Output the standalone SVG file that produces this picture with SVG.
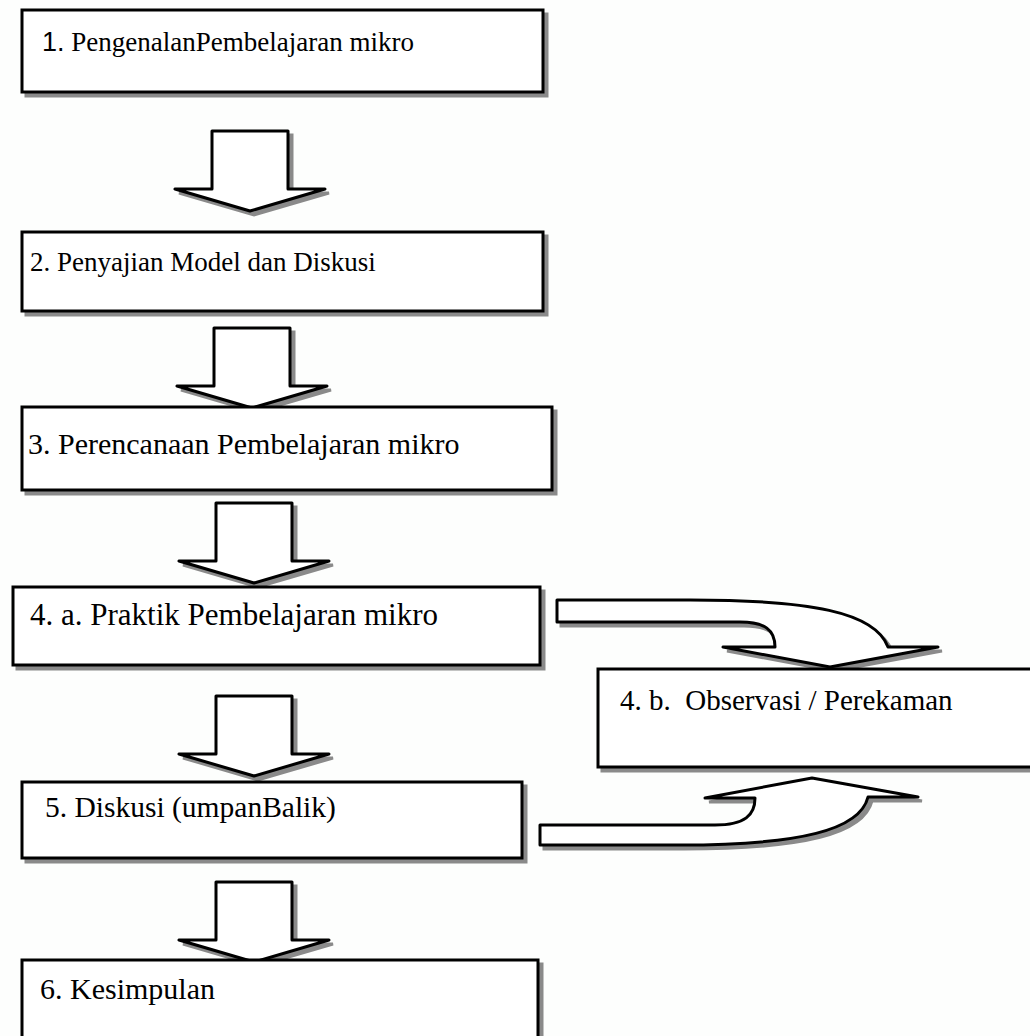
<svg xmlns="http://www.w3.org/2000/svg" width="1030" height="1036" viewBox="0 0 1030 1036">
<style>
.box{fill:#fff;stroke:#000;stroke-width:3}
.sh{fill:#8a8a8a;stroke:#8a8a8a;stroke-width:3}
.arr{fill:#fff;stroke:#000;stroke-width:3;stroke-linejoin:round}
.t{font-family:"Liberation Serif","Times New Roman",serif;font-size:27px;fill:#000}
.s{font-family:"Liberation Sans",Arial,sans-serif}
</style>
<defs>
<path id="down" d="M-38,0 L38,0 L38,58 L75,58 L0,80 L-75,58 L-38,58 Z"/>
</defs>
<rect width="1030" height="1036" fill="#fdfefd"/>
<g id="connectors">
<g id="a1" transform="translate(250,131)"><use href="#down" class="sh" transform="translate(4,4)"/><use href="#down" class="arr"/></g>
<g id="a2" transform="translate(252,328)"><use href="#down" class="sh" transform="translate(4,4)"/><use href="#down" class="arr"/></g>
<g id="a3" transform="translate(254,503)"><use href="#down" class="sh" transform="translate(4,4)"/><use href="#down" class="arr"/></g>
<g id="a4" transform="translate(254,696)"><use href="#down" class="sh" transform="translate(4,4)"/><use href="#down" class="arr"/></g>
<g id="a5" transform="translate(254,882)"><use href="#down" class="sh" transform="translate(4,4)"/><use href="#down" class="arr"/></g>
<path id="c1s" class="sh" transform="translate(4,4)" d="M557,600 L690,600 C810,600 875,612 888,647 L938,647 L830,667 L723,647 L775,647 C775,630 765,622 740,622 L557,622 Z"/>
<path id="c1" class="arr" d="M557,600 L690,600 C810,600 875,612 888,647 L938,647 L830,667 L723,647 L775,647 C775,630 765,622 740,622 L557,622 Z"/>
<path id="c2s" class="sh" transform="translate(4,4)" d="M540,825 L715,825 C745,825 755,815 755,798 L705,798 L812,778 L918,797 L868,797 C860,830 800,845 680,845 L540,845 Z"/>
<path id="c2" class="arr" d="M540,825 L715,825 C745,825 755,815 755,798 L705,798 L812,778 L918,797 L868,797 C860,830 800,845 680,845 L540,845 Z"/>
</g>
<g id="n1"><rect class="sh" x="26" y="14" width="521" height="82"/><rect class="box" x="22" y="10" width="521" height="82"/><text class="t" x="42" y="51"><tspan class="s">1.</tspan> PengenalanPembelajaran mikro</text></g>
<g id="n2"><rect class="sh" x="26" y="236" width="521" height="79"/><rect class="box" x="22" y="232" width="521" height="79"/><text class="t" x="30" y="271">2. Penyajian Model dan Diskusi</text></g>
<g id="n3"><rect class="sh" x="26" y="411" width="530" height="83"/><rect class="box" x="22" y="407" width="530" height="83"/><text class="t" x="28" y="454" style="font-size:30px">3. Perencanaan Pembelajaran mikro</text></g>
<g id="n4a"><rect class="sh" x="17" y="591" width="527" height="78"/><rect class="box" x="13" y="587" width="527" height="78"/><text class="t" x="30" y="625" style="font-size:31px">4. a. Praktik Pembelajaran mikro</text></g>
<g id="n4b"><rect class="sh" x="602" y="673" width="440" height="98"/><rect class="box" x="598" y="669" width="440" height="98"/><text class="t" x="620" y="710" xml:space="preserve" style="font-size:29px">4. b.  Observasi / Perekaman</text></g>
<g id="n5"><rect class="sh" x="26" y="786" width="500" height="76"/><rect class="box" x="22" y="782" width="500" height="76"/><text class="t" x="45" y="817" style="font-size:29.5px">5. Diskusi (umpanBalik)</text></g>
<g id="n6"><rect class="sh" x="26" y="964" width="516" height="80"/><rect class="box" x="22" y="960" width="516" height="80"/><text class="t" x="40" y="999" style="font-size:30px">6. Kesimpulan</text></g>
</svg>
